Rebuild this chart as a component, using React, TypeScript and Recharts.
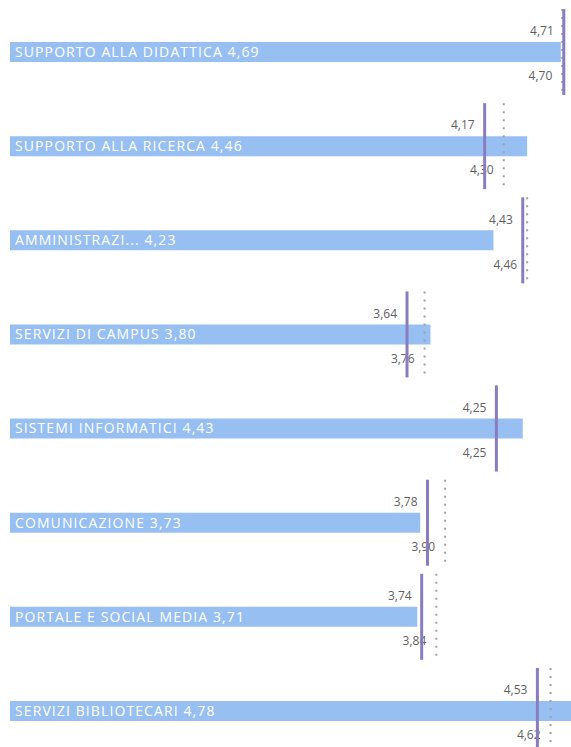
import React from 'react';
import { Bar, ComposedChart, LabelList, Scatter, XAxis, YAxis } from 'recharts';

const categories = [
  'SUPPORTO ALLA DIDATTICA',
  'SUPPORTO ALLA RICERCA',
  'AMMINISTRAZI...',
  'SERVIZI DI CAMPUS',
  'SISTEMI INFORMATICI',
  'COMUNICAZIONE',
  'PORTALE E SOCIAL MEDIA',
  'SERVIZI BIBLIOTECARI',
];
const scores = [4.69, 4.46, 4.23, 3.8, 4.43, 3.73, 3.71, 4.78];
const solidRefs = [4.71, 4.17, 4.43, 3.64, 4.25, 3.78, 3.74, 4.53];
const dottedRefs = [4.7, 4.3, 4.46, 3.76, 4.25, 3.9, 3.84, 4.62];

const fmt = (v: number) => v.toFixed(2).replace('.', ',');

const data = categories.map((name, i) => ({
  name,
  score: scores[i],
  solid: solidRefs[i],
  dotted: dottedRefs[i],
  label: `${name} ${fmt(scores[i])}`,
}));

const BAR_COLOR = '#97bff2';
const SOLID_COLOR = '#8a7cc0';
const DOTTED_COLOR = '#a0a0a0';
const HALF = 43;

const SolidMarker = (props: any) => {
  const { cx, cy, payload } = props;
  if (cx == null || cy == null) return null;
  return (
    <g>
      <line x1={cx} x2={cx} y1={cy - HALF} y2={cy + HALF} stroke={SOLID_COLOR} strokeWidth={3} />
      <text x={cx - 10} y={cy - 20} textAnchor="end" dominantBaseline="middle" fontSize={12} fill="#5f5f5f">
        {fmt(payload.solid)}
      </text>
    </g>
  );
};

const DottedMarker = (props: any) => {
  const { cx, cy, payload } = props;
  if (cx == null || cy == null) return null;
  return (
    <g>
      <line
        x1={cx}
        x2={cx}
        y1={cy - HALF}
        y2={cy + HALF}
        stroke={DOTTED_COLOR}
        strokeWidth={2}
        strokeDasharray="2 6"
      />
      <text x={cx - 10} y={cy + 25} textAnchor="end" dominantBaseline="middle" fontSize={12} fill="#5f5f5f">
        {fmt(payload.dotted)}
      </text>
    </g>
  );
};

const App = () => (
  <div style={{ width: 571, height: 747, overflow: 'hidden', fontFamily: '"Open Sans", sans-serif' }}>
    <style>{'body{margin:0}'}</style>
    <ComposedChart
      layout="vertical"
      width={600}
      height={760}
      data={data}
      margin={{ top: 5, right: 4, left: 10, bottom: 2 }}
    >
      <XAxis type="number" domain={[0.93, 4.93]} hide allowDataOverflow />
      <YAxis type="category" dataKey="name" hide />
      <Bar dataKey="score" fill={BAR_COLOR} barSize={20} isAnimationActive={false}>
        <LabelList
          dataKey="label"
          position="insideLeft"
          fill="#ffffff"
          fontSize={14}
          letterSpacing={1.1}
          offset={5}
        />
      </Bar>
      <Scatter dataKey="dotted" shape={DottedMarker} isAnimationActive={false} />
      <Scatter dataKey="solid" shape={SolidMarker} isAnimationActive={false} />
    </ComposedChart>
  </div>
);

export default App;
